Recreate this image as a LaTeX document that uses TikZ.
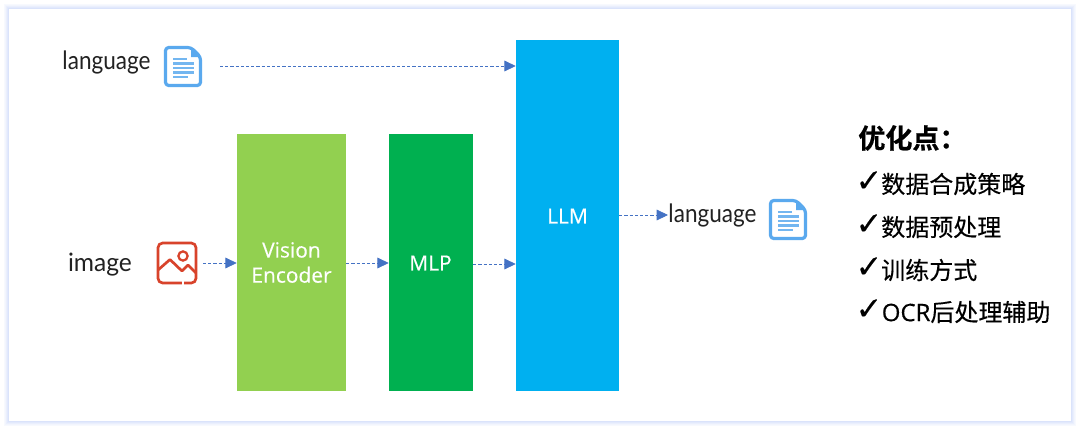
\documentclass[tikz,border=0pt]{standalone}
\usepackage{fontspec}
\setmainfont{Open Sans}
\newfontfamily\cjk[FakeBold=0.25]{Noto Sans CJK SC}
\newfontfamily\cjkbold[FakeBold=0.8]{Noto Sans CJK SC Bold}
\newfontfamily\opn[FakeBold=0.35]{Open Sans}
\newfontfamily\hand[FakeStretch=0.89]{Lato}
\newfontfamily\handb[FakeStretch=0.97]{Lato}
\newfontfamily\sym[FakeBold=0.1]{DejaVu Sans}
\usetikzlibrary{arrows.meta}
\definecolor{lgreen}{HTML}{92D050}
\definecolor{dgreen}{HTML}{00B050}
\definecolor{cyanb}{HTML}{00B0F0}
\definecolor{arrowb}{HTML}{4472C4}
\definecolor{docb}{HTML}{5AA9EE}
\definecolor{imgr}{HTML}{D8432B}
\definecolor{inkt}{HTML}{222222}
\definecolor{halo}{HTML}{C4D2FA}
\tikzset{
  x=0.75pt,y=-0.75pt,
  block/.style={draw=none,inner sep=0pt,text=white,align=center,font=\opn\fontsize{15.7}{18.8}\selectfont},
  flow/.style={draw=arrowb,line width=0.55pt,dash pattern=on 2.4pt off 1.5pt,-{Triangle[length=8.5pt,width=8pt,fill=arrowb]}},
  handlabel/.style={inner sep=0pt,text=inkt,font=\hand\fontsize{19}{22}\selectfont},
  bullet/.style={inner sep=0pt,anchor=west,text=black,font=\cjk\fontsize{18}{22}\selectfont},
  tick/.style={inner sep=0pt,text=black,font=\sym\fontsize{24}{26}\selectfont},
}
\newcommand{\docicon}[2]{%
  \begin{scope}[shift={(#1,#2)}]
    \draw[docb,line width=2.4pt,line join=round,rounded corners=2.4pt,fill=white]
      (1.5,1.5) -- (27,1.5) -- (36.5,11) -- (36.5,39.5) -- (1.5,39.5) -- cycle;
    \fill[docb] (27,1.5) -- (36.5,11) -- (27,11) -- cycle;
    \foreach \yy/\aa/\bb in {13/9/23,17.5/9/30,22/9/30,26.5/9/30,31/9/24}
      \draw[docb!85,line width=2pt] (\aa,\yy) -- (\bb,\yy);
  \end{scope}}
\begin{document}
\begin{tikzpicture}
\useasboundingbox (0,0) rectangle (1080,430);
\fill[white] (0,0) rectangle (1080,430);
% soft frame
\foreach \d/\o in {4.5/0.12,3.5/0.22,2.5/0.34,1.5/0.48,0.5/0.62}
  \draw[halo,line width=0.8pt,opacity=\o] (9-\d,9-\d) rectangle (1071+\d,421+\d);

\node[block,fill=lgreen,minimum width=81.75pt,minimum height=192.75pt] (enc) at (291.5,262.5) {Vision\\Encoder};
\node[block,fill=dgreen,minimum width=63pt,minimum height=192.75pt] (mlp) at (431,262.5) {};
\node[block,text=white] (mlplabel) at (430.5,263) {MLP};
\node[block,fill=cyanb,minimum width=77.25pt,minimum height=263.25pt] (llm) at (567.5,215.5) {};
\node[block] (llmlabel) at (567.5,216) {LLM};

\node[handlabel] (lang1) at (106.5,62) {language};
\node[handlabel,font=\handb\fontsize{19}{22}\selectfont] (img) at (100,265) {image};
\node[handlabel] (lang2) at (712.5,215.5) {language};

\docicon{164}{46}
\docicon{769}{199}

% image icon
\draw[imgr,line width=2pt,rounded corners=3.5pt] (158,243) rectangle (196,283);
\draw[white,line width=2.6pt] (181.5,283) -- (184,283);
\draw[imgr,line width=2pt,line join=round] (158,270) -- (170,259.5) -- (182,271) -- (188,265) -- (196,273);
\draw[imgr,line width=1.7pt] (183,256) circle[radius=4.6];

\coordinate (langout) at (220,66);
\coordinate (imgout) at (203,263);
\coordinate (llmend) at (668,215);
\draw[flow] (langout) -- (langout -| llm.west);
\draw[flow] (imgout) -- (imgout -| enc.west);
\draw[flow] (enc.east |- mlplabel) -- (mlp.west |- mlplabel);
\draw[flow] (mlp.east |- 0,264) -- (llm.west |- 0,264);
\draw[flow] (llm.east |- llmend) -- (llmend);

\node[inner sep=0pt,anchor=west,text=black,font=\cjkbold\fontsize{20.3}{24}\selectfont] (title) at (858,138) {优化点：};
\node[tick] (t1) at (869,181.5) {✓};
\node[tick] (t2) at (869,224.5) {✓};
\node[tick] (t3) at (869,267.5) {✓};
\node[tick] (t4) at (869,309.5) {✓};
\node[bullet] (b1) at (881,184) {数据合成策略};
\node[bullet] (b2) at (881,227) {数据预处理};
\node[bullet] (b3) at (881,270) {训练方式};
\node[bullet] (b4) at (881.5,312) {{\opn OCR}后处理辅助};
\end{tikzpicture}
\end{document}
